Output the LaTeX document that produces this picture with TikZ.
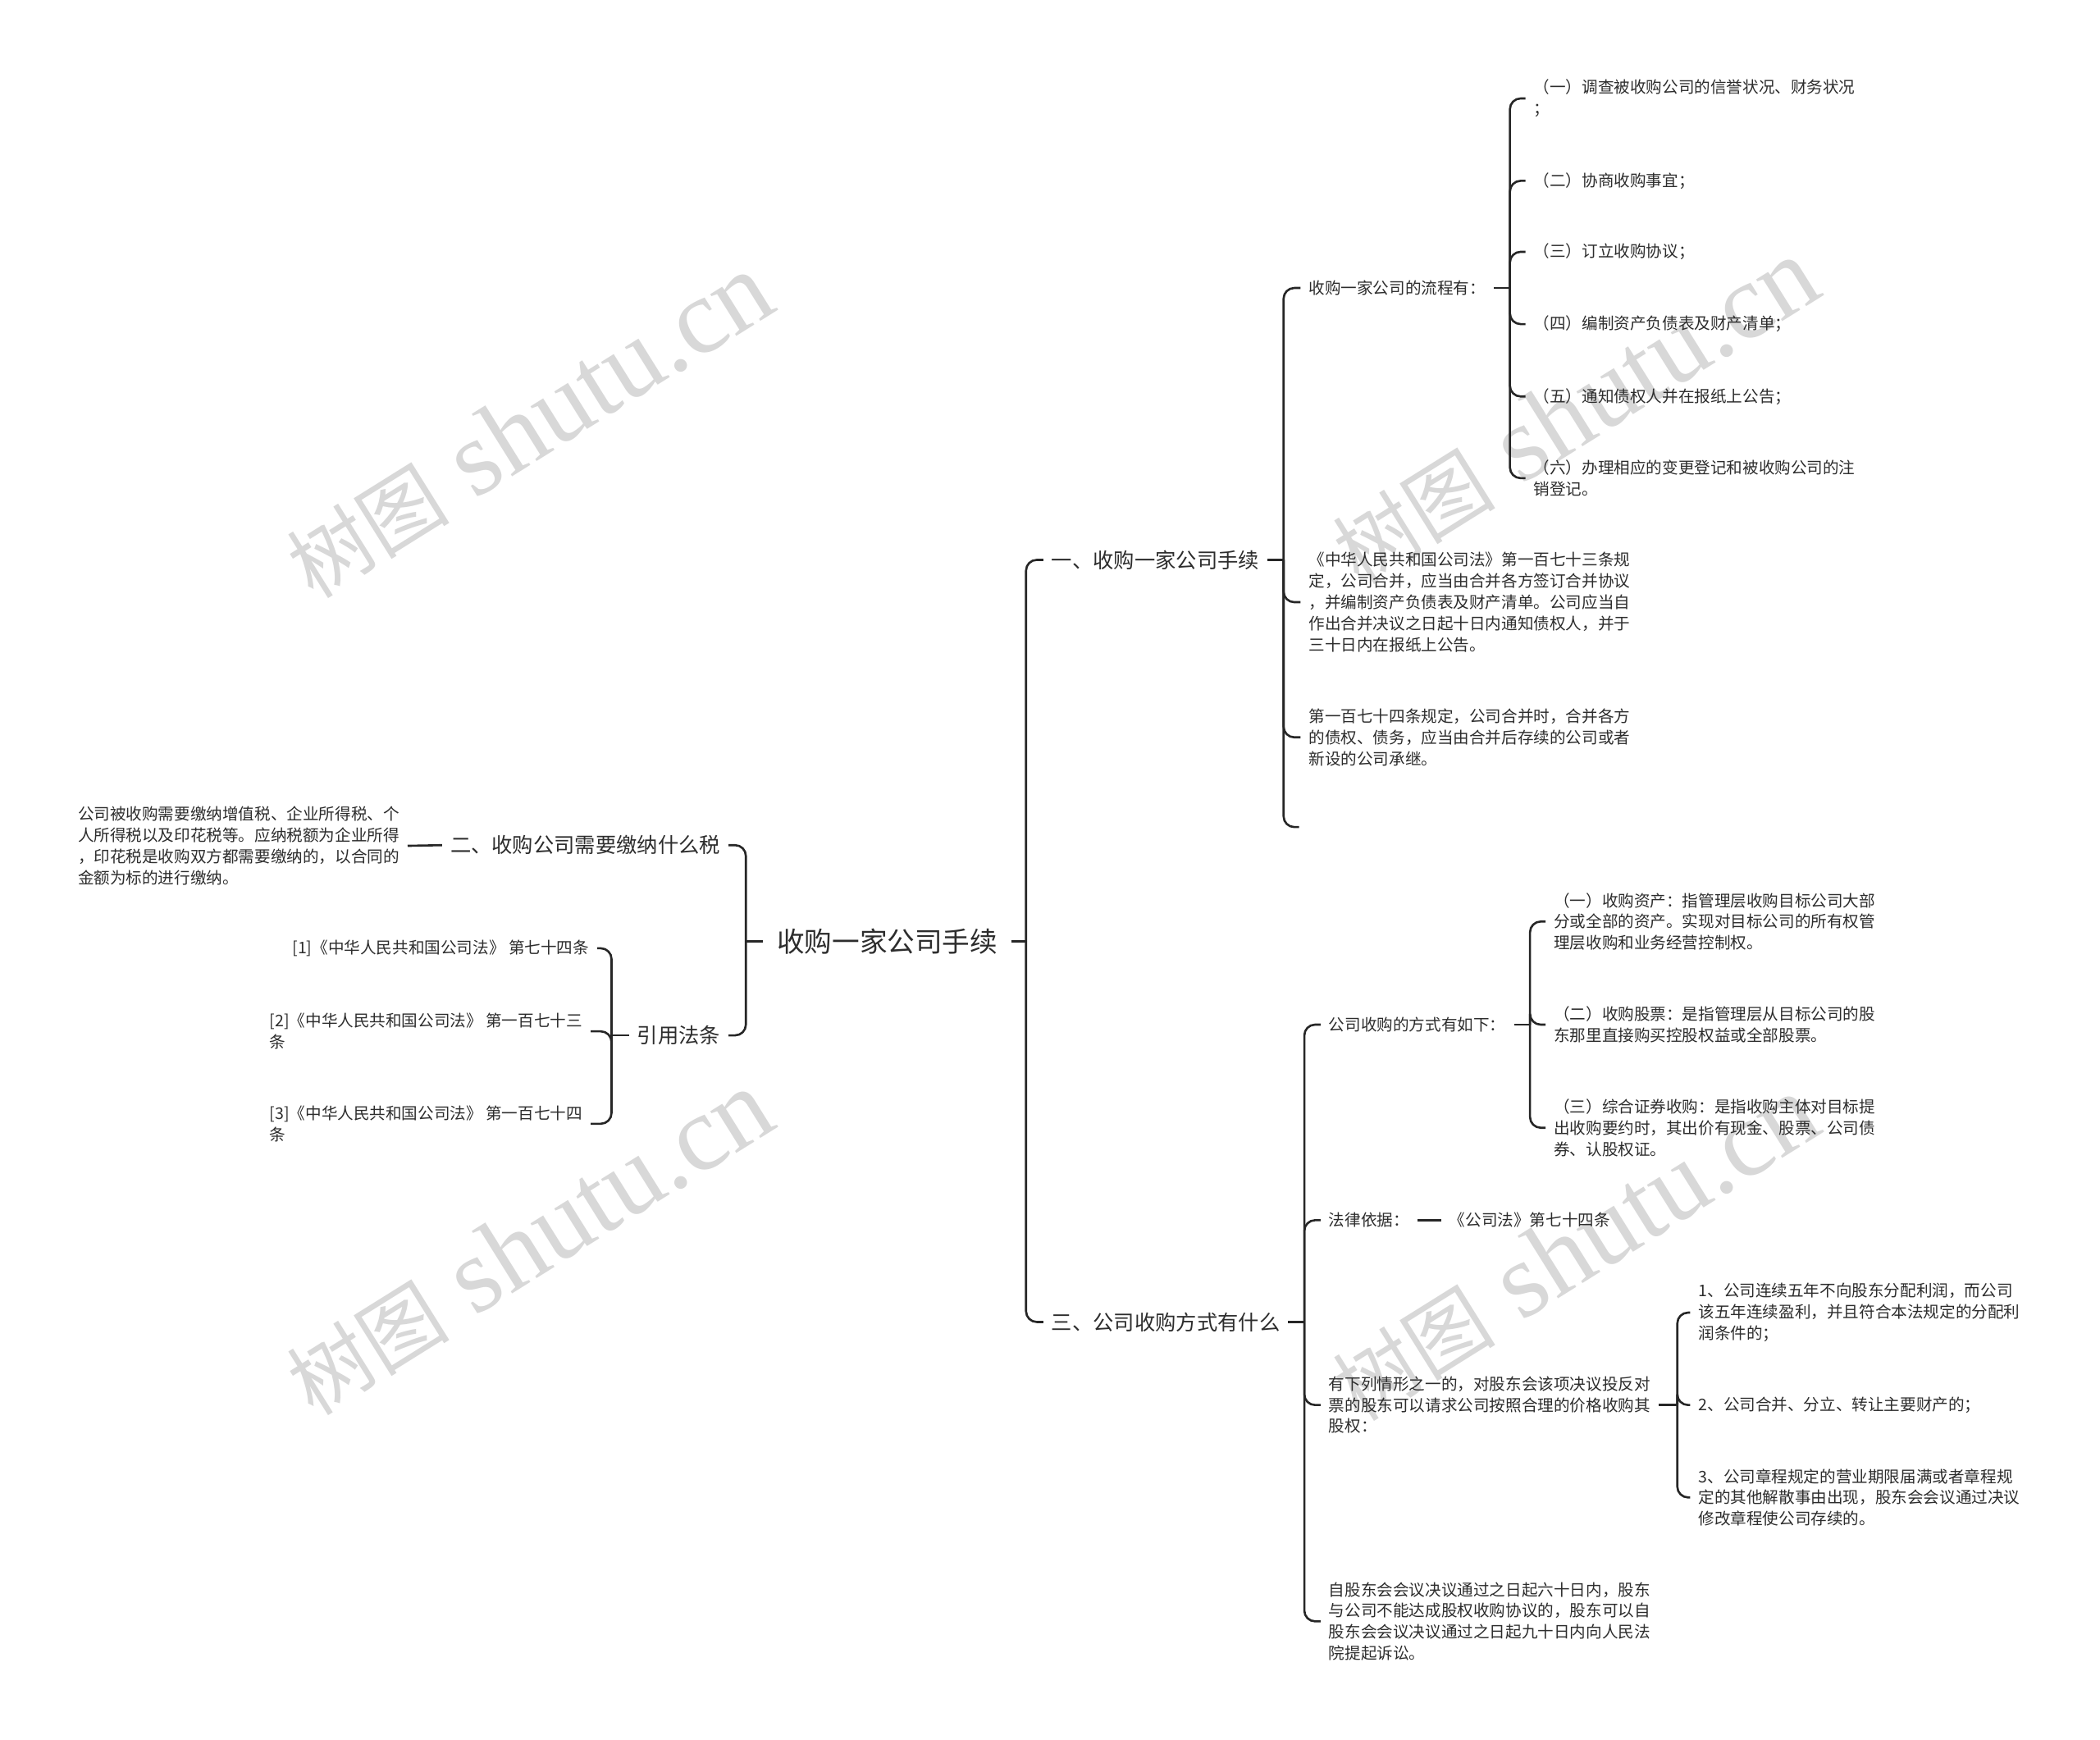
\documentclass[tikz,border=0pt]{standalone}
\usepackage{fontspec}
\setmainfont{Noto Sans CJK SC}
\newfontfamily\wmlat{Liberation Serif}
\usetikzlibrary{calc}
\definecolor{lc}{RGB}{38,38,38}
\definecolor{tc}{RGB}{45,45,45}
\definecolor{wm}{RGB}{216,216,216}
\tikzset{
  tx/.style={font=\fontsize{12}{15.8}\selectfont, align=left, inner xsep=6pt, inner ysep=0pt, text=tc},
  tm/.style={font=\fontsize{15.5}{19}\selectfont, inner xsep=6pt, inner ysep=0pt, text=tc},
  troot/.style={font=\fontsize{20.6}{24}\selectfont, inner xsep=10pt, inner ysep=0pt, text=tc},
  conn/.style={draw=lc, line width=1.6pt, rounded corners=8pt},
  stub/.style={draw=lc, line width=1.6pt},
  wmk/.style={text=wm, rotate=32, inner sep=0pt}
}
\begin{document}
\begin{tikzpicture}[x=1pt,y=-1pt]
\fill[white] (0,0) rectangle (1568,1299);
\path[use as bounding box] (0,0) rectangle (1568,1299);
% watermarks
\foreach \i/\px/\py in {1/395/318,2/395/928,3/1176/307,4/1176/932}
  \node[wmk] (wm\i) at (\px,\py) {\fontsize{61}{64}\selectfont 树图{\wmlat\fontsize{80}{84}\selectfont\ shutu.cn}};

% root and main branches
\node[troot] (root) at (662.5,703) {收购一家公司手续};
\node[tm,anchor=west] (n1) at (779,418) {一、收购一家公司手续};
\node[tm,anchor=west] (n3) at (779,987) {三、公司收购方式有什么};
\node[tm,anchor=east] (n2) at (544,631) {二、收购公司需要缴纳什么税};
\node[tm,anchor=east] (nC) at (544,773) {引用法条};

% left side
\node[tx,anchor=west] (n2a) at (52,631.5) {公司被收购需要缴纳增值税、企业所得税、个\\人所得税以及印花税等。应纳税额为企业所得\\，印花税是收购双方都需要缴纳的，以合同的\\金额为标的进行缴纳。};
\node[tx,anchor=east] (c1) at (446,708) {[1]《中华人民共和国公司法》 第七十四条};
\node[tx,anchor=east] (c2) at (441,770) {[2]《中华人民共和国公司法》 第一百七十三\\条};
\node[tx,anchor=east] (c3) at (441,839) {[3]《中华人民共和国公司法》 第一百七十四\\条};

% branch one
\node[tx,anchor=west] (p) at (971,215) {收购一家公司的流程有：};
\node[tx,anchor=west] (law1) at (971,449.6) {《中华人民共和国公司法》第一百七十三条规\\定，公司合并，应当由合并各方签订合并协议\\，并编制资产负债表及财产清单。公司应当自\\作出合并决议之日起十日内通知债权人，并于\\三十日内在报纸上公告。};
\node[tx,anchor=west] (law2) at (971,550.5) {第一百七十四条规定，公司合并时，合并各方\\的债权、债务，应当由合并后存续的公司或者\\新设的公司承继。};
\coordinate (e1) at (970,617.5);

\node[tx,anchor=west] (s1) at (1139,73.5) {（一）调查被收购公司的信誉状况、财务状况\\；};
\node[tx,anchor=west] (s2) at (1139,135) {（二）协商收购事宜；};
\node[tx,anchor=west] (s3) at (1139,188) {（三）订立收购协议；};
\node[tx,anchor=west] (s4) at (1139,242) {（四）编制资产负债表及财产清单；};
\node[tx,anchor=west] (s5) at (1139,296) {（五）通知债权人并在报纸上公告；};
\node[tx,anchor=west] (s6) at (1139,357) {（六）办理相应的变更登记和被收购公司的注\\销登记。};

% branch three
\node[tx,anchor=west] (m) at (986,765) {公司收购的方式有如下：};
\node[tx,anchor=west] (lawb) at (986,911) {法律依据：};
\node[tx,anchor=west] (lawc) at (1076,911) {《公司法》第七十四条};
\node[tx,anchor=west] (q) at (986,1049) {有下列情形之一的，对股东会该项决议投反对\\票的股东可以请求公司按照合理的价格收购其\\股权：};
\node[tx,anchor=west] (last) at (986,1210.5) {自股东会会议决议通过之日起六十日内，股东\\与公司不能达成股权收购协议的，股东可以自\\股东会会议决议通过之日起九十日内向人民法\\院提起诉讼。};

\node[tx,anchor=west] (m1) at (1154,688) {（一）收购资产：指管理层收购目标公司大部\\分或全部的资产。实现对目标公司的所有权管\\理层收购和业务经营控制权。};
\node[tx,anchor=west] (m2) at (1154,765) {（二）收购股票：是指管理层从目标公司的股\\东那里直接购买控股权益或全部股票。};
\node[tx,anchor=west] (m3) at (1154,842) {（三）综合证券收购：是指收购主体对目标提\\出收购要约时，其出价有现金、股票、公司债\\券、认股权证。};

\node[tx,anchor=west] (q1) at (1262,980) {1、公司连续五年不向股东分配利润，而公司\\该五年连续盈利，并且符合本法规定的分配利\\润条件的；};
\node[tx,anchor=west] (q2) at (1262,1049) {2、公司合并、分立、转让主要财产的；};
\node[tx,anchor=west] (q3) at (1262,1118) {3、公司章程规定的营业期限届满或者章程规\\定的其他解散事由出现，股东会会议通过决议\\修改章程使公司存续的。};

% connectors
\coordinate (jR) at ($(root.east)+(11,0)$);
\coordinate (jL) at ($(root.west)+(-13,0)$);
\draw[stub] (root.east) -- (jR);
\draw[stub] (root.west) -- (jL);
\foreach \c in {n1,n3} \draw[conn] (jR) |- (\c.west);
\foreach \c in {n2,nC} \draw[conn] (jL) |- (\c.east);

\draw[stub] (n2.west) -- (n2a.east);

\coordinate (jC) at ($(nC.west)+(-13,0)$);
\draw[stub] (nC.west) -- (jC);
\foreach \c in {c1,c2,c3} \draw[conn] (jC) |- (\c.east);

\coordinate (j1) at ($(n1.east)+(12,0)$);
\draw[stub] (n1.east) -- (j1);
\foreach \c in {p,law1,law2} \draw[conn] (j1) |- (\c.west);
\draw[conn] (j1) |- (e1);

\coordinate (jp) at ($(p.east)+(12,0)$);
\draw[stub] (p.east) -- (jp);
\foreach \c in {s1,s2,s3,s4,s5,s6} \draw[conn] (jp) |- (\c.west);

\coordinate (j3) at ($(n3.east)+(12,0)$);
\draw[stub] (n3.east) -- (j3);
\foreach \c in {m,lawb,q,last} \draw[conn] (j3) |- (\c.west);

\coordinate (jm) at ($(m.east)+(12,0)$);
\draw[stub] (m.east) -- (jm);
\foreach \c in {m1,m2,m3} \draw[conn] (jm) |- (\c.west);

\draw[stub] (lawb.east) -- (lawc.west);

\coordinate (jq) at ($(q.east)+(14,0)$);
\draw[stub] (q.east) -- (jq);
\foreach \c in {q1,q2,q3} \draw[conn] (jq) |- (\c.west);
\end{tikzpicture}
\end{document}
